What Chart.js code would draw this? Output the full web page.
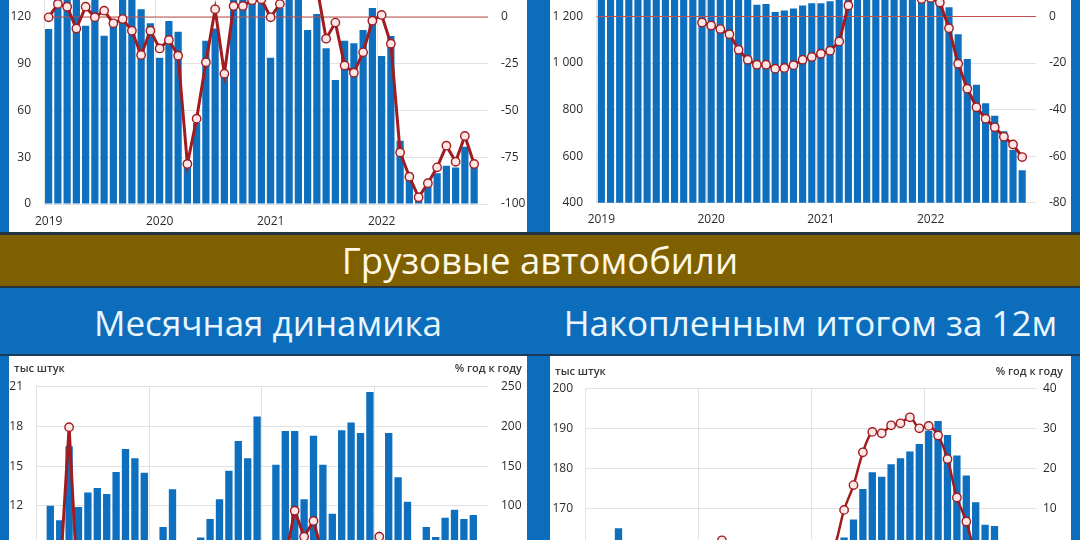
<!DOCTYPE html>
<html lang="ru">
<head>
<meta charset="utf-8">
<title>Продажи автомобилей</title>
<script src="https://cdn.jsdelivr.net/npm/chart.js@4.4.1/dist/chart.umd.min.js"></script>
<style>
html, body { margin: 0; padding: 0; }
body {
    width: 1080px; height: 540px; overflow: hidden; position: relative;
    background: #0B6DBB; font-family: 'Open Sans', 'Noto Sans', sans-serif;
}
.panel { position: absolute; background: #fff; overflow: hidden; }
.panel canvas { position: absolute; left: 0; }
#band {
    position: absolute; left: 0; top: 232px; width: 1080px; height: 51px;
    border-top: 3px solid #22343f; border-bottom: 2px solid #22343f;
    background: #7f6000; color: #fff8e6; text-align: center;
    font-size: 36.5px; line-height: 51px;
}
.head {
    position: absolute; top: 299px; height: 48px; line-height: 48px;
    text-align: center; color: #eaf6ff; font-size: 35px;
}
#rule { position: absolute; left: 0; top: 354px; width: 1080px; height: 2px; background: #1e3a56; }
.unit { position: absolute; font-size: 11px; font-weight: 600; color: #383838; white-space: nowrap; }
</style>
</head>
<body>

<div class="panel" id="p-tl" style="left:9px;top:0;width:518px;height:232px">
    <canvas id="chart-tl" width="518" height="292" style="top:-60px"></canvas>
</div>
<div class="panel" id="p-tr" style="left:550px;top:0;width:521px;height:232px">
    <canvas id="chart-tr" width="521" height="332" style="top:-100px"></canvas>
</div>

<div id="band">Грузовые автомобили</div>
<div class="head" style="left:9px;width:518px">Месячная динамика</div>
<div class="head" style="left:550px;width:521px">Накопленным итогом за 12м</div>
<div id="rule"></div>

<div class="panel" id="p-bl" style="left:9px;top:356px;width:518px;height:184px">
    <canvas id="chart-bl" width="518" height="337" style="top:0"></canvas>
    <div class="unit" style="left:5px;top:4px">тыс штук</div>
    <div class="unit" style="right:5px;top:4px">% год к году</div>
</div>
<div class="panel" id="p-br" style="left:550px;top:356px;width:521px;height:184px">
    <canvas id="chart-br" width="521" height="300" style="top:0"></canvas>
    <div class="unit" style="left:5px;top:7px">тыс штук</div>
    <div class="unit" style="right:8px;top:7px">% год к году</div>
</div>

<script>
const years = ['2019', '2020', '2021', '2022'];

// легковые, тыс штук в месяц, и % г/г
const carsMonthly = [112.3, 133.9, 139.5, 131.5, 114.4, 138.3, 108, 115, 133.7, 138.7, 125, 116,
    93.9, 117.4, 110.6, 28, 52, 104.8, 112.7, 82, 141.6, 146.9, 137.7, 128.8,
    93.9, 126, 147, 137, 111.7, 121.9, 99.9, 79.6, 104.8, 103.1, 111.7, 125.8,
    95, 107.8, 40.6, 20, 4.5, 13.5, 19.7, 24.6, 23.5, 36.8, 24.4, null];
const carsMonthlyYoY = [-0.2, 7, 5.5, -6.2, 5.5, -0.2, 3.4, -3.4, -1.1, -7.3, -20.3, -7.3,
    -16.8, -12.3, -20.7, -78.6, -54.4, -24.2, 4.1, -30.3, 5.9, 5.9, 9, 9.5,
    -0.2, 7, 33, 389, 115, 16.3, -11.6, -3, -26, -29.8, -18.9, -2,
    1.1, -14.3, -72.4, -85.4, -96.4, -88.9, -80.4, -68.8, -77.4, -63.6, -78.6, null];

// легковые, накопленным итогом за 12 месяцев
const cars12m = [1510, 1516, 1520, 1522, 1519, 1525, 1518, 1516, 1520, 1522, 1510, 1507,
    1489, 1472, 1443, 1340, 1278, 1251, 1254, 1219, 1226, 1234, 1247, 1257,
    1257, 1266, 1302, 1411, 1471, 1488, 1475, 1473, 1436, 1392, 1366, 1363,
    1364, 1346, 1240, 1124, 1017, 907, 827, 774, 707, 626, 539, null];
const cars12mYoY = [null, null, null, null, null, null, null, null, null, null, null, -2.6,
    -3.9, -5.4, -7.6, -14.3, -18.6, -20.7, -20.7, -22.4, -22.1, -20.9, -18.6, -17.4,
    -16, -14.7, -10.7, 4.7, 15, 19.6, 18.1, 21.1, 17.3, 13, 9.8, 7.5,
    8, 6, -5, -20.3, -31, -39, -43.9, -47.6, -51.7, -55, -60.4, null];

// грузовые, тыс штук в месяц
const trucksMonthly = [6.0, 12.0, 10.9, 16.5, 11.9, 13.0, 13.35, 12.9, 14.55, 16.3, 15.6, 14.5,
    5.8, 10.4, 13.25, 9.1, 7.8, 9.6, 11.0, 12.5, 14.65, 16.9, 15.6, 18.75,
    5.6, 15.1, 17.65, 17.65, 12.5, 17.3, 15.1, 11.4, 17.7, 18.3, 17.5, 20.6,
    9.0, 17.5, 14.15, 12.3, 8.6, 10.4, 9.65, 11.1, 11.7, 11.0, 11.3, null];
const trucksMonthlyYoY = [-5, -10, 5, 199, -25, -8, 3, -4, 6, 10, 8, -5,
    -3, -13, 21.6, -45, -35, -26, -18, -3, 0.7, 3.7, 0, 29,
    -3.4, 45, 33, 93.8, 61, 81, 37, -9, 21, 8, 12, 10,
    61, 16, -20, -30, -31, -40, -36, -3, -34, -40, -35, null];

// грузовые, за 12 месяцев
const trucks12m = [152, 153, 154.5, 165, 160.5, 159.5, 159, 158.5, 159, 159.5, 158.5, 157.5,
    157.3, 155.7, 158, 150.6, 146.5, 143.1, 140.8, 140.4, 140.5, 141.1, 141.1, 145.3,
    145.1, 149.8, 154.2, 162.7, 167.2, 174.8, 179, 177.9, 181, 182.5, 184.2, 186.1,
    189.4, 191.8, 188.3, 183.2, 178.2, 171.5, 165.9, 165.6, 159.6, 152.3, 146.1, null];
const trucks12mYoY = [-6, -5, -4, 0, -2, -3, -3, -4, -3, -3, -4, -5,
    -1, -1.5, 2, -9, -9, -10, -11.5, -11.5, -11.5, -11.5, -11, -8,
    -7.5, -4, 0.5, 9.6, 15.8, 24, 29.1, 28.75, 30.75, 31.25, 32.75, 30,
    30.6, 28.2, 22.3, 12.7, 6.7, -1.9, -7.3, -6.9, -12, -15, -17, null];

const barBlue = '#0f6fbf', lineRed = '#a11b1f', markerFill = '#fce6e6',
    gridGray = '#e2e2e2', zeroRed = '#c0504d';

let monthLabels = [];
years.forEach(y => {
    for (let m = 1; m <= 12; m++) monthLabels.push(y + '-' + String(m).padStart(2, '0'));
});

Chart.defaults.font.family = "'Open Sans', 'Noto Sans', sans-serif";
Chart.defaults.font.size = 12;
Chart.defaults.color = '#2b2b2b';

const zeroLine = {
    id: 'zeroLine',
    afterDatasetDraw(chart, args) {
        if (args.meta.type !== 'bar') return;
        const a = chart.chartArea, y = chart.scales.y2.getPixelForValue(0);
        if (y < a.top || y > a.bottom) return;
        const ctx = chart.ctx;
        ctx.save();
        ctx.strokeStyle = zeroRed;
        ctx.lineWidth = 1.2;
        ctx.beginPath();
        ctx.moveTo(a.left, y);
        ctx.lineTo(a.right, y);
        ctx.stroke();
        ctx.restore();
    }
};

function spaced(v) {
    return Math.abs(v) >= 1000 ? String(v).replace(/(\d)(\d{3})$/, '$1 $2') : String(v);
}

function build(id, o) {
    return new Chart(document.getElementById(id), {
        data: {
            labels: monthLabels,
            datasets: [{
                type: 'line',
                data: o.line,
                yAxisID: 'y2',
                order: 0,
                borderColor: lineRed,
                borderWidth: o.lineWidth,
                tension: o.tension,
                pointRadius: 4.2,
                pointBorderWidth: 1.4,
                pointBackgroundColor: markerFill,
                pointBorderColor: lineRed,
                spanGaps: false
            }, {
                type: 'bar',
                data: o.bars,
                yAxisID: 'y',
                order: 1,
                backgroundColor: barBlue,
                barPercentage: 0.78,
                categoryPercentage: 1
            }]
        },
        options: {
            responsive: false,
            animation: false,
            layout: { padding: { top: o.padTop, left: 0, right: 0, bottom: 0 }, autoPadding: false },
            plugins: { legend: { display: false }, tooltip: { enabled: false } },
            scales: {
                x: {
                    offset: true,
                    border: { display: false },
                    grid: {
                        offset: true,
                        drawTicks: false,
                        color: c => (c.index % 12 === 0 && c.index < 48) ? gridGray : 'rgba(0,0,0,0)'
                    },
                    ticks: {
                        autoSkip: false,
                        maxRotation: 0,
                        padding: 10,
                        callback: (v, i) => i % 12 === 0 ? years[i / 12] : ''
                    },
                    afterFit: s => { s.height = o.xh; }
                },
                y: {
                    position: 'left',
                    min: o.y[0], max: o.y[1],
                    border: { display: false },
                    grid: { color: gridGray, drawTicks: false },
                    ticks: { stepSize: o.y[2], padding: o.pad[0], callback: v => spaced(v) },
                    afterFit: s => { s.width = o.w[0]; }
                },
                y2: {
                    position: 'right',
                    min: o.y2[0], max: o.y2[1],
                    border: { display: false },
                    grid: { display: false, drawTicks: false },
                    ticks: { stepSize: o.y2[2], padding: o.pad[1] },
                    afterFit: s => { s.width = o.w[1]; }
                }
            }
        },
        plugins: [zeroLine]
    });
}

build('chart-tl', {
    bars: carsMonthly, line: carsMonthlyYoY, lineWidth: 3, tension: 0,
    y: [0, 150, 30], y2: [-100, 25, 25], w: [35, 39], pad: [13, 13], padTop: 30.25, xh: 28
});
build('chart-tr', {
    bars: cars12m, line: cars12mYoY, lineWidth: 3, tension: 0,
    y: [400, 1600, 200], y2: [-80, 40, 20], w: [46.8, 35.1], pad: [13.8, 13], padTop: 23.4, xh: 29.3
});
build('chart-bl', {
    bars: trucksMonthly, line: trucksMonthlyYoY, lineWidth: 3, tension: 0,
    y: [0, 21, 3], y2: [-100, 250, 50], w: [27.2, 39.6], pad: [13.2, 13.6], padTop: 30.7, xh: 28.4
});
build('chart-br', {
    bars: trucks12m, line: trucks12mYoY, lineWidth: 2.5, tension: 0.35,
    y: [140, 200, 10], y2: [-20, 40, 10], w: [35.6, 34.2], pad: [12.6, 6.2], padTop: 32.3, xh: 27.7
});
</script>
</body>
</html>
